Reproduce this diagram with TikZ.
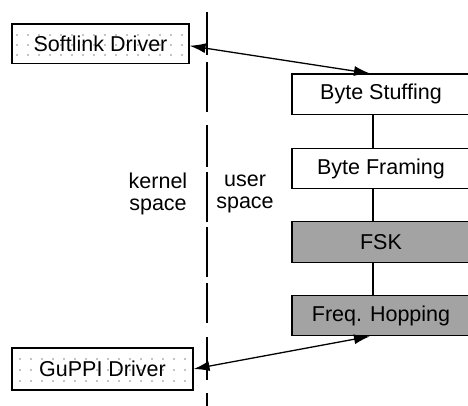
\documentclass[tikz,border=0pt]{standalone}
\usepackage{fontspec}
\setmainfont{Liberation Sans}
\usetikzlibrary{arrows.meta}
\begin{document}
\begin{tikzpicture}[x=1pt,y=-1pt,
  every node/.style={font=\fontsize{21.5}{22}\selectfont},
  drvbox/.style={draw,line width=1.1pt,inner sep=0pt},
  layerbox/.style={draw,line width=1.1pt,inner sep=0pt,minimum width=178pt,minimum height=40.5pt},
  shaded/.style={layerbox,fill=black!36},
  link/.style={line width=1.3pt},
  biarrow/.style={link,{Latex[length=16pt,width=10pt]}-{Latex[length=16pt,width=10pt]}},
  sep/.style={line width=1.4pt},
  dot/.style={fill=black,draw=none}
]
\useasboundingbox (0,0) rectangle (468,405);

% user/kernel separator (dashed line)
\foreach \a/\b in {12/55,62/112,125/167,172/222,227/277,283/323,337/380,393/410}
  \draw[sep] (207,\a) -- (207,\b);

% dotted grids of the driver boxes
\foreach \r in {35,45,55}
  \foreach \c in {17,28,...,185}
    \fill[dot] (\c,\r) circle (0.7pt);
\foreach \r in {359,370,381}
  \foreach \c in {20,31,...,188}
    \fill[dot] (\c,\r) circle (0.7pt);

% driver boxes
\node[drvbox,minimum width=177pt,minimum height=39.5pt] (sl) at (100.5,43.75) {};
\node at (sl.center) {Softlink Driver};
\node[drvbox,minimum width=181pt,minimum height=42pt] (gp) at (102.5,369) {};
\node at (gp.center) {GuPPI Driver};

% layer boxes
\node[layerbox] (bs) at (381,94.25) {Byte Stuffing};
\node[layerbox] (bf) at (381,168.5) {Byte Framing};
\node[shaded] (fsk) at (381,242) {FSK};
\node[shaded] (fh) at (381,315.5) {Freq. Hopping};

% labels
\node[align=center] (ks) at (158,194) {kernel\\space};
\node[align=center] (us) at (245,194) {user\\space};

% stack connectors
\coordinate (cx) at (373,0);
\draw[link] (bs.south -| cx) -- (bf.north -| cx);
\draw[link] (bf.south -| cx) -- (fsk.north -| cx);
\draw[link] (fsk.south -| cx) -- (fh.north -| cx);

% arrows
\coordinate (ax) at (370,0);
\draw[biarrow] ([yshift=-2pt]sl.east) -- (bs.north -| ax);
\draw[biarrow] (gp.east) -- (fh.south -| ax);
\end{tikzpicture}
\end{document}
